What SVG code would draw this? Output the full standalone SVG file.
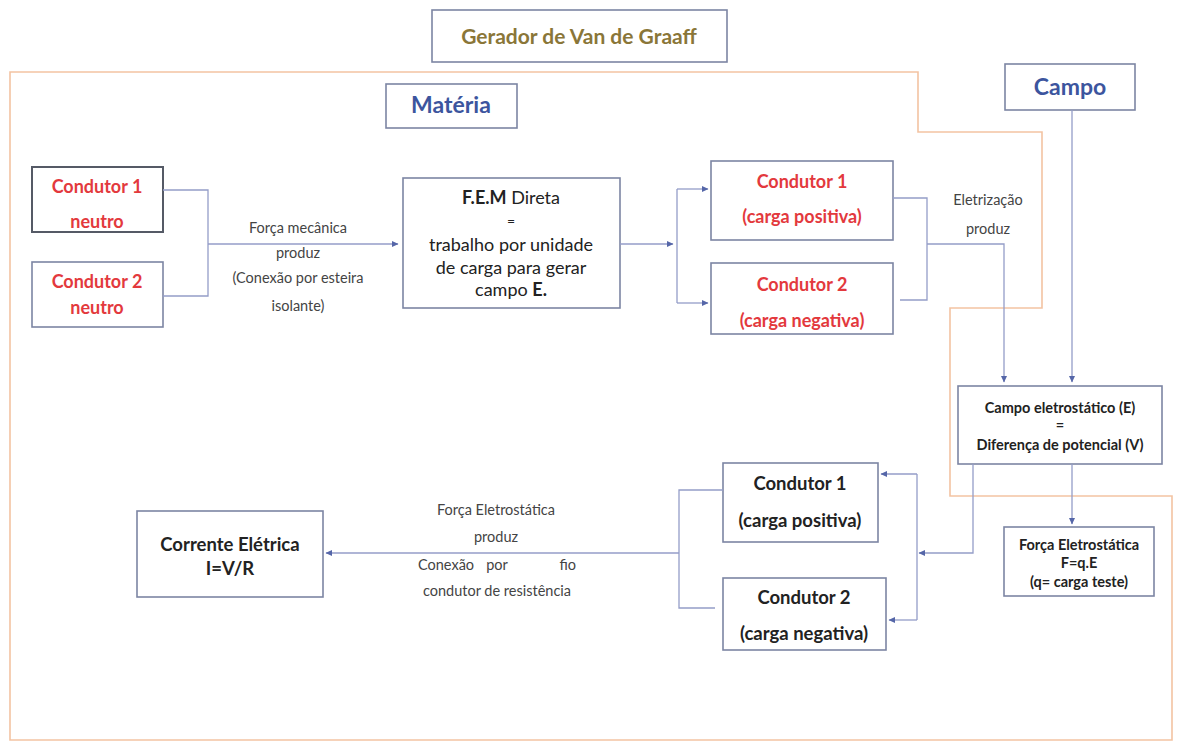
<svg xmlns="http://www.w3.org/2000/svg" width="1177" height="744" viewBox="0 0 1177 744">
<defs>
<marker id="arr" markerWidth="7" markerHeight="7" refX="6" refY="3.5" orient="auto" markerUnits="userSpaceOnUse">
<path d="M0,0.5 L6.5,3.5 L0,6.5 Z" fill="#5566a8"/>
</marker>
</defs>
<style>
text{font-family:Lato,"Liberation Sans",sans-serif;text-anchor:middle}
.box{fill:#fff;stroke:#7c85a3;stroke-width:1.6}
.dark{fill:#fff;stroke:#555a66;stroke-width:2}
.red{fill:#e3393d;font-weight:bold;font-size:18px}
.blk{fill:#222;font-weight:bold}
.big{font-size:18.5px}
.sm{font-size:14.5px}
.blue{fill:#3c559e;font-weight:bold}
.fem{font-size:18px;fill:#222}
.lbl{fill:#444;font-size:14.5px}
.conn path{fill:none;stroke:#949dc8;stroke-width:1.3}
.arrow{marker-end:url(#arr)}
</style>
<rect width="1177" height="744" fill="#fff"/>
<path id="frame" d="M10,72 H918 V132 H1042 V308 H950 V496 H1172 V740 H10 Z" fill="none" stroke="#f3c3a2" stroke-width="1.6"/>

<g id="title"><rect class="box" x="432" y="10" width="295" height="52"/><text x="579" y="44" style="font-size:21px;font-weight:bold;fill:#8a7638">Gerador de Van de Graaff</text></g>
<g id="materia"><rect class="box" x="386" y="84" width="131" height="44"/><text class="blue" x="451" y="113" style="font-size:23px">Matéria</text></g>
<g id="campo"><rect class="box" x="1005" y="64" width="130" height="46"/><text class="blue" x="1070" y="95" style="font-size:23px">Campo</text></g>

<g id="c1neutro"><rect class="dark" x="32" y="167" width="131" height="65"/><text class="red" x="97" y="193">Condutor 1</text><text class="red" x="97" y="228">neutro</text></g>
<g id="c2neutro"><rect class="box" x="32" y="262" width="131" height="65"/><text class="red" x="97" y="288">Condutor 2</text><text class="red" x="97" y="314">neutro</text></g>

<g id="fem"><rect class="box" x="403" y="178" width="217" height="130"/>
<text class="fem" x="511" y="204"><tspan font-weight="bold">F.E.M</tspan> Direta</text>
<text class="fem" x="511" y="226" style="font-size:14px">=</text>
<text class="fem" x="511" y="251">trabalho por unidade</text>
<text class="fem" x="511" y="274">de carga para gerar</text>
<text class="fem" x="511" y="296">campo <tspan font-weight="bold">E.</tspan></text></g>

<g id="c1pos"><rect class="box" x="711" y="161" width="182" height="79"/><text class="red" x="802" y="188">Condutor 1</text><text class="red" x="802" y="223">(carga positiva)</text></g>
<g id="c2neg"><rect class="box" x="711" y="263" width="182" height="71"/><text class="red" x="802" y="291">Condutor 2</text><text class="red" x="802" y="327">(carga negativa)</text></g>

<g id="campoE"><rect class="box" x="958" y="386" width="204" height="78"/>
<text class="blk sm" x="1060" y="413">Campo eletrostático (E)</text>
<text class="blk sm" x="1060" y="430">=</text>
<text class="blk sm" x="1060" y="450">Diferença de potencial (V)</text></g>

<g id="forca"><rect class="box" x="1004" y="527" width="150" height="69"/>
<text class="blk sm" x="1079" y="550">Força Eletrostática</text>
<text class="blk sm" x="1079" y="568">F=q.E</text>
<text class="blk sm" x="1079" y="587">(q= carga teste)</text></g>

<g id="c1posB"><rect class="box" x="723" y="463" width="155" height="79"/><text class="blk big" x="800" y="490">Condutor 1</text><text class="blk big" x="800" y="527">(carga positiva)</text></g>
<g id="c2negB"><rect class="box" x="723" y="578" width="163" height="72"/><text class="blk big" x="804" y="604">Condutor 2</text><text class="blk big" x="804" y="640">(carga negativa)</text></g>

<g id="corrente"><rect class="box" x="137" y="511" width="186" height="86"/><text class="blk big" x="230" y="551">Corrente Elétrica</text><text class="blk big" x="230" y="575">I=V/R</text></g>

<g class="conn" id="connectors">
<path d="M163,190 H208 V296 H163"/>
<path class="arrow" d="M208,244 H398"/>
<path class="arrow" d="M620,244 H673"/>
<path d="M677,189 V303"/>
<path class="arrow" d="M677,189 H708"/>
<path class="arrow" d="M677,303 H708"/>
<path d="M893,198 H927 V300 H900"/>
<path class="arrow" d="M927,244 H1004 V382"/>
<path class="arrow" d="M1072,110 V382"/>
<path class="arrow" d="M1072,464 V524"/>
<path class="arrow" d="M973,464 V553 H919"/>
<path d="M917,474 V620"/>
<path class="arrow" d="M917,474 H881"/>
<path class="arrow" d="M917,620 H889"/>
<path d="M723,490 H679 V608 H715"/>
<path class="arrow" d="M679,553 H326"/>
</g>

<g id="labels">
<text class="lbl" x="298" y="233">Força mecânica</text>
<text class="lbl" x="298" y="258">produz</text>
<text class="lbl" x="298" y="283">(Conexão por esteira</text>
<text class="lbl" x="298" y="311">isolante)</text>
<text class="lbl" x="988" y="205">Eletrização</text>
<text class="lbl" x="988" y="234">produz</text>
<text class="lbl" x="496" y="515">Força Eletrostática</text>
<text class="lbl" x="496" y="542">produz</text>
<text class="lbl" x="418" y="570" style="text-anchor:start">Conexão</text>
<text class="lbl" x="497" y="570">por</text>
<text class="lbl" x="576" y="570" style="text-anchor:end">fio</text>
<text class="lbl" x="497" y="596">condutor de resistência</text>
</g>
</svg>
